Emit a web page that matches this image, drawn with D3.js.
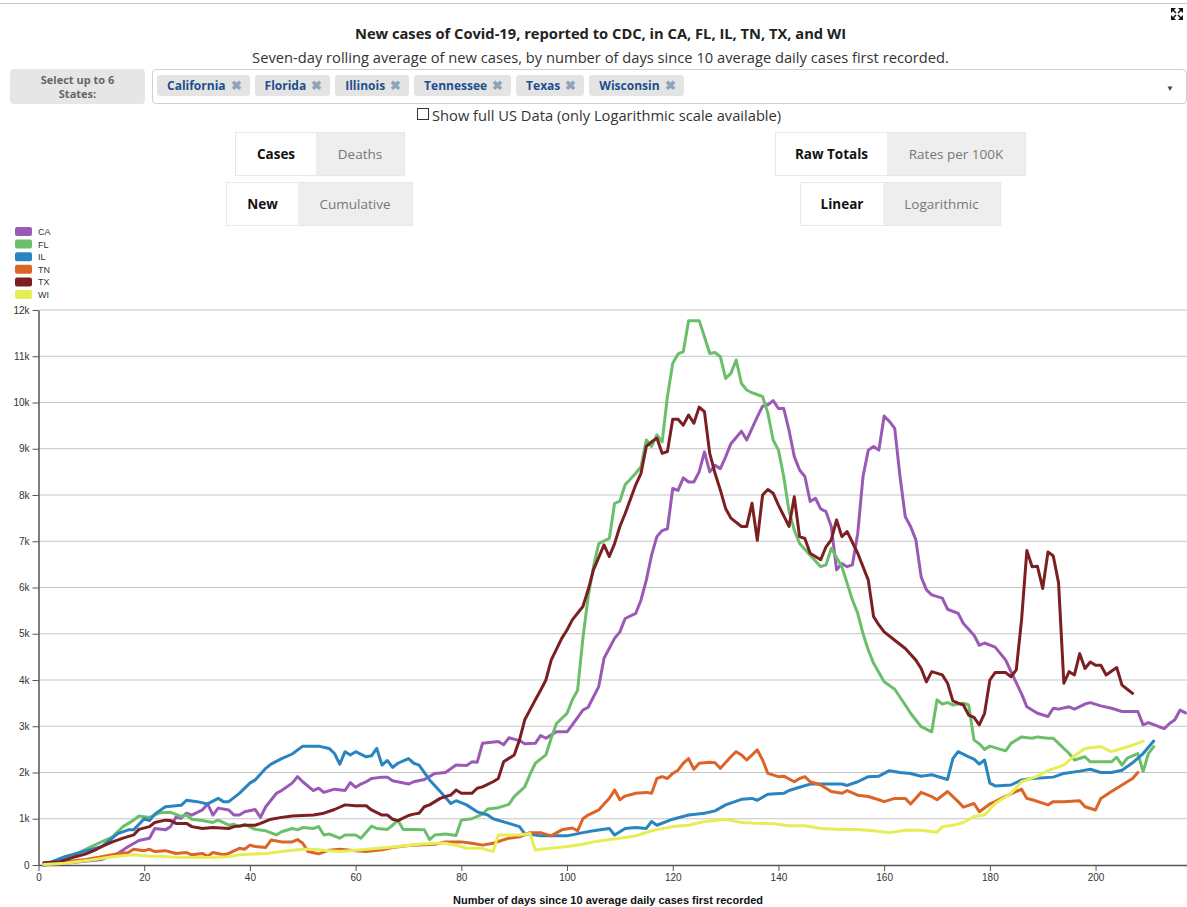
<!DOCTYPE html>
<html>
<head>
<meta charset="utf-8">
<script src="https://cdn.jsdelivr.net/npm/d3@7"></script>
<style>
  body { margin: 0; width: 1187px; height: 907px; position: relative; overflow: hidden;
         font-family: 'Open Sans', sans-serif; background: #fff; }
  .topline { position: absolute; left: 0; top: 3px; width: 1187px; border-top: 1px solid #c8c8c8; }
  .titulo { position: absolute; left: 0; width: 1201px; top: 23px; text-align: center;
            font-size: 14.7px; font-weight: 700; color: #222; }
  .sub { position: absolute; left: 0; width: 1201px; top: 47px; text-align: center;
         font-size: 14.7px; color: #333; }
  .sel-label { position: absolute; left: 10px; top: 69px; width: 135px; height: 35px; background: #e6e6e6;
               border-radius: 4px; text-align: center;
               font-size: 11px; font-weight: 700; color: #666; }
  .sel-label div { position: absolute; left: 0; width: 135px; line-height: 15px; }
  .sel-box { position: absolute; left: 152px; top: 69px; width: 1033px; height: 33px; border: 1px solid #d0d0d0;
             border-radius: 4px; }
  .chips { position: absolute; left: 157px; top: 75px; display: flex; gap: 5px; }
  .chip { height: 21px; line-height: 21px; background: #e4e4e4; border-radius: 3px; padding: 0 8px 0 10px;
          font-size: 12px; font-weight: 700; color: #1d4f8b; white-space: nowrap; }
  .chip span { color: #8ea3ba; margin-left: 5px; font-size: 13px; }
  .arrow { position: absolute; left: 1166px; top: 82px; font-size: 8px; color: #444; }
  .check { position: absolute; left: 417px; top: 108px; width: 10px; height: 10px; border: 1px solid #333; }
  .check-txt { position: absolute; left: 432px; top: 105px; font-size: 14.7px; color: #333; }
  .grp { position: absolute; height: 42px; border: 1px solid #e8e8e8; display: flex; font-size: 13.5px; }
  .grp div { height: 42px; line-height: 42px; text-align: center; }
  .on { background: #fff; font-weight: 700; color: #111; }
  .off { background: #eee; color: #777; }
  svg.graf { position: absolute; left: 0; top: 0; }
  .eje text { font-family: Arial, sans-serif; font-size: 10px; fill: #333; }
  .eje path, .eje line { stroke: #555; }
</style>
</head>
<body>
<div class="topline"></div>
<svg style="position:absolute;left:1170px;top:7px" width="14" height="14" viewBox="0 0 14 14">
  <path d="M1 1h5l-2 2 2.5 2.5-1 1L3 4 1 6z M13 1v5l-2-2-2.5 2.5-1-1L10 3 8 1z M1 13V8l2 2 2.5-2.5 1 1L4 11l2 2z M13 13H8l2-2-2.5-2.5 1-1L11 10l2-2z" fill="#111"/>
</svg>
<div class="titulo">New cases of Covid-19, reported to CDC, in CA, FL, IL, TN, TX, and WI</div>
<div class="sub">Seven-day rolling average of new cases, by number of days since 10 average daily cases first recorded.</div>
<div class="sel-label"><div style="top:3px">Select up to 6</div><div style="top:17px">States:</div></div>
<div class="sel-box"></div>
<div class="chips" id="chips"></div>
<div class="arrow">&#9660;</div>
<div class="check"></div>
<div class="check-txt">Show full US Data (only Logarithmic scale available)</div>
<div class="grp" style="left:235px;top:132px"><div class="on" style="width:80px">Cases</div><div class="off" style="width:88px">Deaths</div></div>
<div class="grp" style="left:226px;top:182px"><div class="on" style="width:71px">New</div><div class="off" style="width:114px">Cumulative</div></div>
<div class="grp" style="left:775px;top:132px"><div class="on" style="width:111px">Raw Totals</div><div class="off" style="width:138px">Rates per 100K</div></div>
<div class="grp" style="left:800px;top:182px"><div class="on" style="width:82px">Linear</div><div class="off" style="width:117px">Logarithmic</div></div>
<div id="graf"></div>
<script>
// I. Datos (día, casos promedio de 7 días)
estados = ['California', 'Florida', 'Illinois', 'Tennessee', 'Texas', 'Wisconsin']
claves = ['CA', 'FL', 'IL', 'TN', 'TX', 'WI']

CA = [[1,0],[5,40],[12,120],[15,250],[17,400],[19,530],[21,580],[22,790],[24,760],[25,830],[26,1030],[27,1010],[28,1120],[29,1080],[31,1190],[32,1320],[33,1080],[34,1230],[36,1190],[37,1080],[38,1080],[39,1150],[41,1200],[42,1030],[43,1260],[45,1550],[46,1610],[48,1770],[49,1910],[50,1800],[52,1610],[53,1660],[54,1570],[56,1640],[58,1610],[59,1780],[60,1680],[61,1750],[62,1800],[63,1870],[65,1900],[66,1900],[67,1820],[70,1750],[71,1800],[73,1850],[75,1980],[77,2000],[79,2160],[81,2150],[82,2230],[83,2220],[84,2630],[87,2670],[88,2600],[89,2750],[91,2690],[92,2620],[94,2630],[95,2800],[96,2740],[98,2880],[100,2880],[101,3030],[103,3350],[104,3410],[106,3860],[107,4470],[109,4900],[110,5040],[111,5330],[113,5440],[114,5730],[115,6160],[116,6700],[117,7100],[118,7230],[119,7270],[120,8140],[121,8100],[122,8370],[123,8280],[124,8280],[125,8500],[126,8930],[127,8500],[128,8640],[129,8570],[130,8820],[131,9110],[133,9380],[134,9190],[135,9440],[136,9690],[137,9920],[138,9950],[139,10040],[140,9870],[141,9870],[142,9400],[143,8830],[144,8540],[145,8400],[146,7860],[147,7930],[148,7700],[149,7640],[150,7320],[151,6380],[152,6520],[153,6450],[154,6490],[155,7170],[156,8400],[157,8970],[158,9050],[159,8970],[160,9710],[161,9590],[162,9440],[163,8400],[164,7530],[165,7320],[166,7030],[167,6230],[168,5950],[169,5840],[171,5770],[172,5530],[174,5440],[175,5220],[177,4970],[178,4750],[179,4800],[181,4710],[183,4430],[184,4180],[186,3700],[187,3420],[189,3280],[191,3210],[192,3390],[193,3370],[195,3420],[196,3370],[198,3480],[199,3510],[201,3440],[203,3390],[205,3320],[208,3320],[209,3030],[210,3080],[212,2990],[213,2950],[214,3060],[215,3140],[216,3350],[217,3290]]

FL = [[1,0],[5,120],[10,400],[14,610],[16,830],[18,970],[19,1060],[21,1030],[22,1080],[23,1130],[25,1140],[27,1050],[28,1080],[29,990],[31,960],[33,920],[34,970],[36,860],[37,880],[38,830],[39,880],[41,770],[43,740],[45,650],[46,720],[48,790],[49,760],[50,810],[52,790],[53,830],[54,650],[55,670],[57,580],[58,650],[60,650],[61,580],[63,840],[64,790],[66,770],[67,860],[68,970],[69,770],[71,770],[73,760],[74,550],[75,650],[77,670],[79,640],[80,970],[82,1000],[84,1100],[85,1210],[87,1240],[89,1310],[90,1480],[92,1690],[93,1960],[94,2200],[96,2380],[97,2740],[98,3060],[100,3280],[101,3570],[102,3780],[103,4900],[104,5800],[105,6450],[106,6950],[108,7060],[109,7820],[110,7870],[111,8220],[113,8470],[114,8610],[115,9190],[116,9050],[117,9300],[118,9150],[119,10130],[120,10850],[121,11050],[122,11100],[123,11770],[125,11770],[126,11420],[127,11060],[128,11080],[129,10990],[130,10520],[131,10630],[132,10920],[133,10410],[134,10270],[135,10210],[137,10130],[138,9770],[139,9190],[140,8970],[141,8400],[142,7650],[143,7240],[144,6950],[146,6700],[148,6450],[149,6490],[150,6850],[152,6450],[153,6090],[154,5730],[155,5440],[156,5000],[157,4650],[158,4360],[160,3960],[162,3800],[164,3460],[165,3280],[167,2990],[169,2880],[170,3570],[171,3480],[172,3510],[173,3460],[175,3500],[176,3460],[177,2700],[178,2620],[179,2500],[180,2570],[182,2500],[183,2470],[184,2630],[186,2770],[188,2740],[189,2770],[191,2740],[192,2740],[193,2630],[195,2410],[196,2270],[198,2340],[199,2230],[201,2230],[203,2230],[204,2330],[205,2160],[206,2310],[208,2410],[209,2020],[210,2410],[211,2560]]

IL = [[1,0],[5,180],[12,400],[15,680],[17,760],[18,760],[20,1000],[21,960],[22,1100],[24,1260],[26,1280],[27,1290],[28,1400],[30,1370],[32,1320],[34,1440],[35,1370],[36,1370],[38,1550],[40,1770],[41,1840],[43,2090],[44,2180],[46,2300],[48,2400],[50,2570],[53,2570],[55,2520],[56,2410],[57,2180],[58,2450],[59,2380],[60,2450],[62,2340],[63,2360],[64,2520],[65,2160],[66,2260],[67,2110],[68,2200],[70,2300],[71,2200],[72,2160],[74,1840],[76,1590],[78,1330],[79,1390],[81,1300],[83,1150],[85,1080],[86,1000],[89,900],[91,830],[92,680],[95,630],[98,630],[100,630],[103,700],[105,740],[108,790],[109,650],[111,790],[113,810],[115,790],[116,940],[117,860],[120,990],[123,1080],[126,1120],[128,1170],[130,1300],[133,1420],[135,1440],[136,1400],[138,1530],[141,1550],[142,1610],[144,1680],[146,1750],[148,1750],[152,1750],[153,1720],[155,1800],[157,1910],[159,1920],[161,2040],[163,2000],[165,1980],[167,1920],[169,1950],[172,1850],[173,2300],[174,2450],[176,2340],[177,2290],[178,2180],[179,2270],[180,1770],[181,1710],[184,1730],[186,1840],[188,1870],[192,1900],[194,1980],[197,2030],[199,2070],[201,2000],[203,2000],[205,2050],[207,2210],[209,2410],[211,2680]]

TN = [[1,20],[5,70],[9,120],[12,180],[14,220],[17,270],[18,340],[20,310],[21,340],[22,290],[24,310],[26,250],[28,270],[29,220],[31,250],[32,190],[33,270],[35,220],[36,250],[38,360],[39,340],[40,430],[41,400],[43,380],[44,540],[46,500],[48,500],[49,550],[50,470],[51,290],[53,240],[55,320],[57,340],[60,310],[62,290],[65,330],[67,380],[70,420],[72,430],[75,450],[77,500],[80,500],[82,470],[84,430],[86,470],[89,580],[91,610],[93,700],[95,700],[97,630],[99,760],[101,800],[102,740],[103,1000],[104,1080],[106,1190],[107,1320],[108,1440],[109,1620],[110,1410],[111,1490],[113,1550],[115,1570],[116,1550],[117,1870],[118,1910],[119,1870],[120,1980],[121,2050],[122,2200],[123,2300],[124,2070],[125,2200],[127,2220],[128,2210],[129,2090],[131,2340],[132,2450],[133,2380],[134,2270],[136,2490],[137,2270],[138,1980],[140,1910],[141,1920],[143,1800],[144,1870],[145,1910],[146,1800],[148,1730],[150,1590],[152,1550],[153,1610],[155,1510],[157,1480],[159,1410],[160,1370],[162,1440],[164,1440],[165,1320],[167,1570],[169,1480],[170,1410],[172,1590],[174,1370],[175,1250],[177,1330],[178,1150],[180,1320],[181,1370],[183,1490],[184,1540],[186,1640],[187,1440],[188,1410],[191,1300],[192,1370],[194,1370],[197,1390],[198,1260],[200,1190],[201,1440],[203,1590],[205,1730],[207,1870],[208,2000]]

TX = [[1,50],[4,70],[7,180],[9,240],[11,340],[12,400],[14,500],[16,580],[18,650],[19,770],[21,830],[22,920],[24,970],[25,960],[26,900],[28,900],[29,830],[31,790],[33,810],[36,790],[37,830],[39,860],[41,860],[42,900],[44,990],[46,1030],[48,1060],[50,1070],[52,1080],[54,1120],[56,1200],[58,1300],[60,1280],[62,1280],[63,1190],[65,1080],[66,1080],[67,990],[68,960],[70,1070],[71,1100],[72,1120],[73,1260],[74,1300],[76,1440],[77,1480],[78,1510],[79,1620],[80,1550],[82,1550],[83,1660],[84,1690],[86,1800],[87,1870],[88,2230],[90,2380],[91,2700],[92,3140],[94,3570],[95,3780],[96,4000],[97,4430],[99,4900],[100,5080],[101,5300],[103,5590],[104,5950],[105,6380],[107,6920],[108,6670],[109,6950],[110,7320],[111,7600],[113,8220],[114,8470],[115,9050],[116,9150],[117,9230],[118,8900],[119,8940],[120,9640],[121,9640],[122,9510],[123,9730],[124,9550],[125,9900],[126,9800],[127,8900],[128,8470],[129,8110],[130,7710],[131,7500],[133,7320],[134,7320],[135,7820],[136,7020],[137,8000],[138,8120],[139,8040],[140,7780],[142,7320],[143,7960],[144,7100],[145,7060],[146,6740],[148,6600],[149,6880],[150,7030],[151,7460],[152,7100],[153,7210],[155,6740],[157,6160],[158,5370],[159,5190],[160,5040],[162,4860],[164,4680],[166,4430],[167,4250],[168,3960],[169,4180],[171,4110],[172,3930],[173,3550],[174,3500],[175,3460],[176,3240],[177,3190],[178,3030],[179,3280],[180,4000],[181,4160],[183,4160],[184,4070],[185,4220],[186,5300],[187,6800],[188,6450],[189,6460],[190,5980],[191,6770],[192,6680],[193,6100],[194,3930],[195,4180],[196,4110],[197,4570],[198,4250],[199,4390],[200,4320],[201,4320],[202,4110],[204,4270],[205,3890],[206,3800],[207,3710]]

WI = [[1,10],[5,40],[10,110],[14,180],[18,220],[21,190],[23,190],[26,170],[28,160],[32,160],[36,180],[38,220],[41,240],[43,250],[46,290],[50,340],[52,340],[55,310],[57,290],[60,320],[62,340],[65,370],[68,400],[72,450],[75,470],[77,470],[80,400],[81,360],[84,360],[85,320],[86,290],[87,650],[89,650],[91,650],[93,680],[94,320],[95,340],[97,360],[100,400],[103,450],[105,500],[108,550],[110,580],[113,630],[116,740],[120,830],[123,860],[126,940],[130,990],[133,920],[136,900],[139,890],[142,850],[145,850],[148,790],[152,770],[155,770],[158,740],[161,700],[164,750],[167,750],[170,710],[171,830],[173,860],[175,920],[177,1050],[179,1080],[181,1330],[184,1550],[186,1800],[189,1920],[191,2040],[194,2160],[196,2360],[198,2520],[201,2560],[203,2450],[205,2520],[207,2590],[209,2680]]

series = [CA, FL, IL, TN, TX, WI]

// marcas de los ejes
yTicks = [0, 1000, 2000, 3000, 4000, 5000, 6000, 7000, 8000, 9000, 10000, 11000, 12000]
xTicks = [0, 20, 40, 60, 80, 100, 120, 140, 160, 180, 200]

// colores por estado
colores = ['#9b59b6', '#6cbf6a', '#2a84c0', '#dc6427', '#7c1f22', '#e6ee55']

// II. Controles de arriba (los chips de estados)
d3.select('#chips').selectAll('div')
  .data(estados)
  .enter().append('div')
    .attr('class', 'chip')
    .html(d => d + '<span>&#10006;</span>')

// III. Configuración del svg
ancho_total = 1187
alto_total = 907
margins = { top: 310, left: 38.5, right: 0, bottom: 42 }

svg = d3.select('#graf').append('svg')
        .attr('class', 'graf')
        .attr('width', ancho_total)
        .attr('height', alto_total)

x = d3.scaleLinear()
      .domain([0, 217.3])
      .range([margins.left, ancho_total - margins.right])

y = d3.scaleLinear()
      .domain([0, 12000])
      .range([alto_total - margins.bottom, margins.top])

// líneas de la cuadrícula
svg.append('g')
   .selectAll('line')
   .data(yTicks.slice(1))
   .enter().append('line')
     .attr('x1', margins.left)
     .attr('x2', ancho_total)
     .attr('y1', d => y(d))
     .attr('y2', d => y(d))
     .attr('stroke', '#c4c4c4')
     .attr('stroke-width', 1.2)

// ejes
yAxisGroup = svg.append('g')
                .attr('class', 'eje')
                .attr('transform', `translate(${margins.left}, 0)`)
                .call(d3.axisLeft(y).tickValues(yTicks).tickSizeOuter(0)
                        .tickFormat(d => d == 0 ? '0' : d / 1000 + 'k'))
yAxisGroup.select('.domain').attr('stroke-width', 1.5)

xAxisGroup = svg.append('g')
                .attr('class', 'eje')
                .attr('transform', `translate(0, ${y(0)})`)
                .call(d3.axisBottom(x).tickValues(xTicks).tickSizeOuter(0))
xAxisGroup.select('.domain').attr('stroke-width', 1.5)

svg.append('text')
   .attr('x', 608)
   .attr('y', 904)
   .attr('text-anchor', 'middle')
   .style('font-family', 'Arial, sans-serif')
   .style('font-size', '11px')
   .style('font-weight', 'bold')
   .style('fill', '#111')
   .text('Number of days since 10 average daily cases first recorded')

// IV. Líneas
linea = d3.line()
          .x(d => x(d[0]))
          .y(d => y(d[1]))

svg.append('g')
   .selectAll('path')
   .data(series)
   .enter().append('path')
     .attr('d', linea)
     .attr('fill', 'none')
     .attr('stroke', (d, i) => colores[i])
     .attr('stroke-width', 3)
     .attr('stroke-linejoin', 'round')
     .attr('stroke-linecap', 'round')

// V. Leyenda
leyenda = svg.append('g')
             .attr('transform', 'translate(15, 227)')
items = leyenda.selectAll('g')
               .data(claves)
               .enter().append('g')
                 .attr('transform', (d, i) => `translate(0, ${i * 12.6})`)
items.append('rect')
     .attr('width', 17)
     .attr('height', 9)
     .attr('rx', 2)
     .attr('fill', (d, i) => colores[i])
items.append('text')
     .attr('x', 23)
     .attr('y', 8)
     .style('font-family', 'Arial, sans-serif')
     .style('font-size', '9px')
     .style('fill', '#333')
     .text(d => d)
</script>
</body>
</html>
